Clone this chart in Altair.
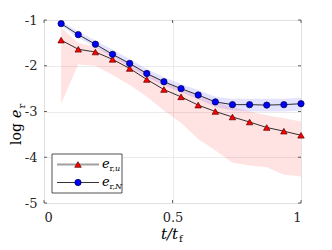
import altair as alt
import pandas as pd

# ---- data ----
t = [i / 15 for i in range(1, 16)]
e_u = [-1.44, -1.64, -1.70, -1.86, -2.06, -2.30, -2.52, -2.68, -2.86, -3.00, -3.12, -3.23, -3.35, -3.43, -3.52]
e_N = [-1.08, -1.32, -1.53, -1.75, -1.95, -2.17, -2.35, -2.50, -2.64, -2.79, -2.85, -2.85, -2.86, -2.85, -2.83]
u_hi = [-1.17, -1.50, -1.58, -1.75, -1.95, -2.15, -2.35, -2.50, -2.65, -2.80, -2.90, -3.00, -3.08, -3.15, -3.22]
u_lo = [-2.83, -1.97, -2.00, -2.20, -2.42, -2.68, -2.98, -3.25, -3.60, -3.85, -4.12, -4.18, -4.22, -4.38, -4.42]
N_hi = [-1.03, -1.25, -1.45, -1.65, -1.85, -2.07, -2.25, -2.40, -2.53, -2.68, -2.72, -2.72, -2.72, -2.72, -2.70]
N_lo = [-1.12, -1.38, -1.60, -1.82, -2.03, -2.25, -2.43, -2.58, -2.73, -2.90, -2.98, -3.00, -3.00, -3.00, -2.98]
x_ticks = [0, 0.5, 1]
y_ticks = [-1, -2, -3, -4, -5]

W, H = 257, 183
FONT = "DejaVu Serif"
AX = "#262626"

df = pd.DataFrame({"t": t, "eu": e_u, "eN": e_N, "uh": u_hi, "ul": u_lo, "nh": N_hi, "nl": N_lo})

xs = alt.Scale(domain=[0, 1], nice=False, zero=False)
ys = alt.Scale(domain=[-5, -1], nice=False, zero=False)

base = alt.Chart(df)

axis_common = dict(labelFont=FONT, labelFontSize=13, labelColor=AX, domain=False,
                   ticks=False, gridColor="#e3e3e3", gridWidth=0.7, title=None,
                   labelExpr="'' + datum.value")

X = alt.X("t:Q", scale=xs, axis=alt.Axis(values=x_ticks, labelPadding=8, **axis_common))
Y = alt.Y("eu:Q", scale=ys, axis=alt.Axis(values=y_ticks, labelPadding=7, **axis_common))

band_u = base.mark_area(color="#ff0000", opacity=0.11).encode(x=X, y=alt.Y("ul:Q", scale=ys), y2="uh:Q")
band_N = base.mark_area(color="#0000ff", opacity=0.11).encode(x=alt.X("t:Q", scale=xs), y=alt.Y("nl:Q", scale=ys), y2="nh:Q")

line_u = base.mark_line(color="#000000", strokeWidth=0.8).encode(x=alt.X("t:Q", scale=xs), y=Y)
pts_u = base.mark_point(shape="triangle-up", filled=True, fill="#ff0000", stroke="#5a0000",
                        strokeWidth=0.7, size=42, opacity=1).encode(x=alt.X("t:Q", scale=xs), y=alt.Y("eu:Q", scale=ys))
line_N = base.mark_line(color="#000000", strokeWidth=0.8).encode(x=alt.X("t:Q", scale=xs), y=alt.Y("eN:Q", scale=ys))
pts_N = base.mark_point(shape="circle", filled=True, fill="#0000ff", stroke="#00003a",
                        strokeWidth=0.7, size=40, opacity=1).encode(x=alt.X("t:Q", scale=xs), y=alt.Y("eN:Q", scale=ys))

# inward ticks
tx = pd.DataFrame({"v": x_ticks})
ty = pd.DataFrame({"v": y_ticks})
tick_b = alt.Chart(tx).mark_rule(color=AX, strokeWidth=0.7).encode(x=alt.X("v:Q", scale=xs), y=alt.value(H), y2=alt.value(H - 3))
tick_t = alt.Chart(tx).mark_rule(color=AX, strokeWidth=0.7).encode(x=alt.X("v:Q", scale=xs), y=alt.value(0), y2=alt.value(3))
tick_l = alt.Chart(ty).mark_rule(color=AX, strokeWidth=0.7).encode(y=alt.Y("v:Q", scale=ys), x=alt.value(0), x2=alt.value(3))
tick_r = alt.Chart(ty).mark_rule(color=AX, strokeWidth=0.7).encode(y=alt.Y("v:Q", scale=ys), x=alt.value(W), x2=alt.value(W - 3))

# legend
one = pd.DataFrame({"k": [0]})
leg_box = alt.Chart(one).mark_rect(fill="white", stroke=AX, strokeWidth=0.8).encode(
    x=alt.value(8), x2=alt.value(78), y=alt.value(134), y2=alt.value(173))
leg_l1 = alt.Chart(one).mark_rule(color="#a0a0a0", strokeWidth=2).encode(
    x=alt.value(13), x2=alt.value(55), y=alt.value(144.5))
leg_l2 = alt.Chart(one).mark_rule(color="#000000", strokeWidth=0.8).encode(
    x=alt.value(13), x2=alt.value(55), y=alt.value(162.5))
leg_p1 = alt.Chart(one).mark_point(shape="triangle-up", filled=True, fill="#ff0000", stroke="#5a0000",
                                   strokeWidth=0.7, size=42, opacity=1).encode(x=alt.value(34), y=alt.value(144.5))
leg_p2 = alt.Chart(one).mark_point(shape="circle", filled=True, fill="#0000ff", stroke="#00003a",
                                   strokeWidth=0.7, size=40, opacity=1).encode(x=alt.value(34), y=alt.value(162.5))

def txt(s, x, y, size, italic=False, angle=0, align="left"):
    kw = dict(text=s, font=FONT, fontSize=size, fontWeight="normal", color="#000000",
              align=align, baseline="alphabetic", angle=angle)
    if italic:
        kw["fontStyle"] = "italic"
    return alt.Chart(one).mark_text(**kw).encode(x=alt.value(x), y=alt.value(y))

labels = [
    # legend labels
    txt("e", 58, 148, 13, True), txt("r,", 65.5, 151, 8), txt("u", 71, 151, 8, True),
    txt("e", 58, 166, 13, True), txt("r,", 65.5, 169, 8), txt("N", 71, 169, 8, True),
    # x title
    txt("t/t", 117, 219, 15, True), txt("f", 135, 222, 10),
    # y title
    txt("log", -23, 125, 14, angle=270), txt("e", -23, 98, 14, True, angle=270), txt("r", -19.5, 88.5, 10, angle=270),
]

chart = alt.layer(band_u, band_N, line_u, line_N, pts_u, pts_N,
                  tick_b, tick_t, tick_l, tick_r,
                  leg_box, leg_l1, leg_l2, leg_p1, leg_p2, *labels).properties(
    width=W, height=H,
    autosize=alt.AutoSizeParams(type="none"),
    padding={"left": 36, "top": 12, "right": 20, "bottom": 47},
).configure_view(stroke=AX, strokeWidth=0.8).configure(background="white")

chart.save("out.html", embed_options={"renderer": "svg", "actions": False})
